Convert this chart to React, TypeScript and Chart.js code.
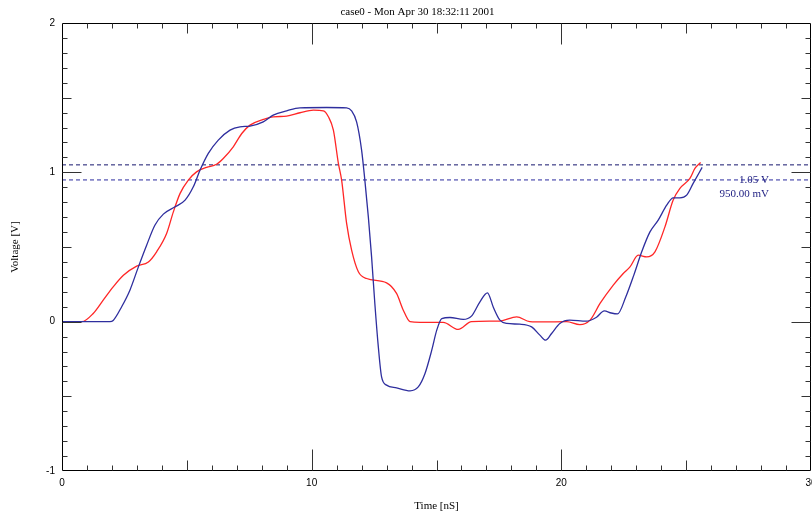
import React, { useEffect, useRef } from 'react';
import { Chart, registerables } from 'chart.js';

Chart.register(...registerables);

const TITLE = 'case0 - Mon Apr 30 18:32:11 2001';
const X_TITLE = 'Time [nS]';
const Y_TITLE = 'Voltage [V]';

const X_MIN = 0;
const X_MAX = 30;
const Y_MIN = -1;
const Y_MAX = 2;
const X_TICKS = [0, 10, 20, 30];
const Y_TICKS = [-1, 0, 1, 2];

const THRESH_HIGH = 1.05;
const THRESH_LOW = 0.95;
const THRESH_LABELS = ['1.05 V', '950.00 mV'];

const redT = [0, 0.8, 1.25, 1.65, 2.05, 2.46, 2.99, 3.46, 3.79, 4.19, 4.46, 4.73, 5.06, 5.39, 5.79, 6.19, 6.46, 6.86, 7.2, 7.53, 8.06, 8.46, 9.0, 9.53, 10.07, 10.47, 10.67, 10.87, 11.07, 11.2, 11.4, 11.6, 11.87, 12.2, 13.0, 13.4, 13.67, 13.94, 14.34, 15.27, 15.87, 16.4, 17.54, 18.21, 18.74, 19.28, 20.21, 20.74, 21.15, 21.55, 22.08, 22.48, 22.75, 23.08, 23.42, 23.75, 24.15, 24.48, 24.75, 25.15, 25.35, 25.58];
const redV = [0, 0, 0.055, 0.144, 0.233, 0.311, 0.372, 0.4, 0.468, 0.59, 0.735, 0.859, 0.948, 1.003, 1.033, 1.054, 1.093, 1.171, 1.26, 1.316, 1.354, 1.372, 1.376, 1.399, 1.417, 1.412, 1.372, 1.283, 1.06, 0.948, 0.658, 0.479, 0.334, 0.289, 0.26, 0.189, 0.077, 0, -0.005, -0.005, -0.052, 0.0, 0.004, 0.032, 0, -0.002, 0.0, -0.02, 0.01, 0.122, 0.245, 0.323, 0.367, 0.445, 0.434, 0.468, 0.635, 0.814, 0.892, 0.959, 1.026, 1.066];

const blueT = [0, 1.92, 2.05, 2.39, 2.72, 3.06, 3.39, 3.72, 4.06, 4.53, 4.93, 5.26, 5.53, 5.86, 6.26, 6.73, 7.13, 7.53, 8.06, 8.46, 9.0, 9.53, 10.6, 11.4, 11.6, 11.8, 12.0, 12.13, 12.27, 12.4, 12.53, 12.67, 12.8, 13.0, 13.4, 13.94, 14.27, 14.54, 14.81, 15.01, 15.21, 15.54, 16.07, 16.4, 16.74, 17.04, 17.28, 17.54, 17.81, 18.34, 18.81, 19.14, 19.37, 19.61, 19.94, 20.34, 21.0, 21.41, 21.72, 22.0, 22.25, 22.58, 22.9, 23.22, 23.55, 23.88, 24.22, 24.48, 24.75, 25.02, 25.28, 25.64];
const blueV = [0, 0, 0.008, 0.1, 0.211, 0.367, 0.512, 0.646, 0.72, 0.769, 0.814, 0.903, 1.015, 1.127, 1.216, 1.283, 1.305, 1.31, 1.338, 1.383, 1.412, 1.432, 1.434, 1.432, 1.412, 1.338, 1.149, 0.948, 0.702, 0.434, 0.122, -0.169, -0.37, -0.425, -0.443, -0.463, -0.437, -0.347, -0.191, -0.057, 0.021, 0.028, 0.015, 0.037, 0.133, 0.193, 0.095, 0.01, -0.012, -0.017, -0.035, -0.09, -0.124, -0.079, -0.012, 0.01, 0.003, 0.03, 0.072, 0.058, 0.052, 0.165, 0.31, 0.468, 0.601, 0.68, 0.78, 0.829, 0.829, 0.847, 0.926, 1.033];

const FONT = "'Liberation Serif', 'Times New Roman', serif";
const TICK_FONT = "'Liberation Sans', Arial, sans-serif";

export default function App() {
  const ref = useRef<HTMLCanvasElement>(null);

  useEffect(() => {
    if (!ref.current) return;
    const toPts = (t: number[], v: number[]) => t.map((x, i) => ({ x, y: v[i] }));

    const framePlugin = {
      id: 'frameTicks',
      afterDatasetsDraw(chart: any) {
        const { ctx, chartArea: a, scales } = chart;
        const xs = scales.x;
        const ys = scales.y;
        const L = Math.round(a.left) + 0.5;
        const R = Math.round(a.right) - 0.5;
        const T = Math.round(a.top) + 0.5;
        const B = Math.round(a.bottom) - 0.5;
        ctx.save();
        ctx.lineWidth = 1;
        ctx.strokeStyle = '#000';
        ctx.beginPath();
        ctx.moveTo(L, T); ctx.lineTo(R, T); ctx.lineTo(R, B); ctx.lineTo(L, B); ctx.closePath();
        ctx.stroke();
        ctx.strokeStyle = '#333';
        ctx.beginPath();
        for (let t = X_MIN + 1; t < X_MAX; t++) {
          const len = t % 10 === 0 ? 21 : t % 5 === 0 ? 10 : 5;
          const px = Math.round(xs.getPixelForValue(t)) + 0.5;
          ctx.moveTo(px, B); ctx.lineTo(px, B - len);
          ctx.moveTo(px, T); ctx.lineTo(px, T + len);
        }
        for (let k = Y_MIN * 10 + 1; k < Y_MAX * 10; k++) {
          const len = k % 10 === 0 ? 19 : k % 5 === 0 ? 9 : 5;
          const py = Math.round(ys.getPixelForValue(k / 10)) + 0.5;
          ctx.moveTo(L, py); ctx.lineTo(L + len, py);
          ctx.moveTo(R, py); ctx.lineTo(R - len, py);
        }
        ctx.stroke();

        // marker labels
        ctx.fillStyle = '#1c1c80';
        ctx.font = `11px ${FONT}`;
        ctx.textAlign = 'right';
        ctx.textBaseline = 'middle';
        const yl = ys.getPixelForValue(THRESH_LOW);
        ctx.fillText(THRESH_LABELS[0], 769, yl + 0.5);
        ctx.fillText(THRESH_LABELS[1], 769, yl + 14.5);

        // title
        ctx.fillStyle = '#000';
        ctx.textAlign = 'center';
        ctx.font = `11px ${FONT}`;
        ctx.fillText(TITLE, 417.5, 12);
        ctx.restore();
      },
    };

    const chart = new Chart(ref.current, {
      type: 'line',
      data: {
        datasets: [
          {
            label: 'blue',
            data: toPts(blueT, blueV),
            borderColor: '#2e2e9e',
            borderWidth: 1.3,
            pointRadius: 0,
            cubicInterpolationMode: 'monotone',
            order: 0,
          },
          {
            label: 'red',
            data: toPts(redT, redV),
            borderColor: '#ff2626',
            borderWidth: 1.3,
            pointRadius: 0,
            cubicInterpolationMode: 'monotone',
            order: 1,
          },
          {
            label: 'high',
            data: [{ x: X_MIN, y: THRESH_HIGH }, { x: X_MAX, y: THRESH_HIGH }],
            borderColor: '#16166e',
            borderWidth: 1,
            borderDash: [4, 3],
            pointRadius: 0,
            order: 2,
          },
          {
            label: 'low',
            data: [{ x: X_MIN, y: THRESH_LOW }, { x: X_MAX, y: THRESH_LOW }],
            borderColor: '#8585c8',
            borderWidth: 1.7,
            borderDash: [4, 3],
            pointRadius: 0,
            order: 3,
          },
        ],
      },
      options: {
        responsive: false,
        animation: false,
        devicePixelRatio: 1,
        layout: { padding: { top: 23, right: 1, left: 0, bottom: 0 }, autoPadding: false },
        plugins: { legend: { display: false }, tooltip: { enabled: false }, title: { display: false } },
        scales: {
          x: {
            type: 'linear',
            min: X_MIN,
            max: X_MAX,
            afterBuildTicks: (s: any) => { s.ticks = X_TICKS.map((v) => ({ value: v })); },
            afterFit: (s: any) => { s.height = 42; s.paddingLeft = 0; s.paddingRight = 0; },
            grid: { display: false, drawTicks: false },
            border: { display: false },
            ticks: { color: '#000', font: { family: TICK_FONT, size: 10 }, padding: 6, maxRotation: 0, autoSkip: false },
            title: { display: true, text: X_TITLE, color: '#000', font: { family: FONT, size: 11 }, padding: { top: 0, bottom: 0 } },
          },
          y: {
            type: 'linear',
            min: Y_MIN,
            max: Y_MAX,
            afterBuildTicks: (s: any) => { s.ticks = Y_TICKS.map((v) => ({ value: v })); },
            afterFit: (s: any) => { s.width = 62; s.paddingTop = 0; s.paddingBottom = 0; },
            grid: { display: false, drawTicks: false },
            border: { display: false },
            ticks: { color: '#000', font: { family: TICK_FONT, size: 10 }, padding: 7 },
            title: { display: true, text: Y_TITLE, color: '#000', font: { family: FONT, size: 11 }, padding: { top: 9, bottom: 0 } },
          },
        },
      },
      plugins: [framePlugin],
    } as any);
    return () => chart.destroy();
  }, []);

  return (
    <div style={{ position: 'fixed', left: 0, top: 0, width: 812, height: 513, background: '#fff' }}>
      <canvas ref={ref} width={812} height={513} style={{ width: 812, height: 513, display: 'block' }} />
    </div>
  );
}
